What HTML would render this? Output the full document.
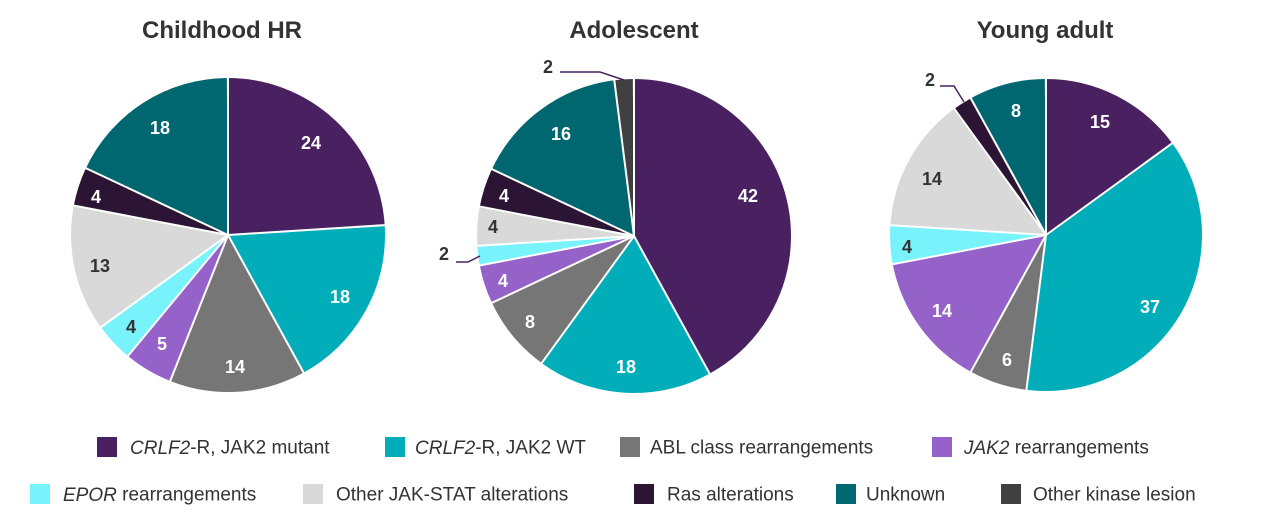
<!DOCTYPE html>
<html><head><meta charset="utf-8"><style>
body{margin:0;background:#fff;width:1273px;height:524px;overflow:hidden}
svg{font-family:"Liberation Sans",sans-serif}
.t{font-size:24px;font-weight:bold;fill:#333;text-anchor:middle}
.l{font-size:18px;font-weight:bold;text-anchor:middle;dominant-baseline:central}
.w{fill:#fff}.d{fill:#333}
.g{font-size:19px;fill:#333;dominant-baseline:central}
</style></head><body>
<svg width="1273" height="524" viewBox="0 0 1273 524">
<text class="t" x="222" y="38">Childhood HR</text>
<text class="t" x="634" y="38">Adolescent</text>
<text class="t" x="1045" y="38">Young adult</text>

<g transform="translate(228,235)">
<g transform="rotate(-90)" fill="none" stroke-width="157">
<circle r="78.5" pathLength="100" stroke="#4a2160" stroke-dasharray="24 100" stroke-dashoffset="0"/>
<circle r="78.5" pathLength="100" stroke="#00adb9" stroke-dasharray="18 100" stroke-dashoffset="-24"/>
<circle r="78.5" pathLength="100" stroke="#767676" stroke-dasharray="14 100" stroke-dashoffset="-42"/>
<circle r="78.5" pathLength="100" stroke="#9462c9" stroke-dasharray="5 100" stroke-dashoffset="-56"/>
<circle r="78.5" pathLength="100" stroke="#78f2fb" stroke-dasharray="4 100" stroke-dashoffset="-61"/>
<circle r="78.5" pathLength="100" stroke="#d9d9d9" stroke-dasharray="13 100" stroke-dashoffset="-65"/>
<circle r="78.5" pathLength="100" stroke="#2b1434" stroke-dasharray="4 100" stroke-dashoffset="-78"/>
<circle r="78.5" pathLength="100" stroke="#006770" stroke-dasharray="18 100" stroke-dashoffset="-82"/>
</g>
<g stroke="#fff" stroke-width="2">
<line y2="-158" transform="rotate(0)"/><line y2="-158" transform="rotate(86.4)"/><line y2="-158" transform="rotate(151.2)"/><line y2="-158" transform="rotate(201.6)"/><line y2="-158" transform="rotate(219.6)"/><line y2="-158" transform="rotate(234)"/><line y2="-158" transform="rotate(280.8)"/><line y2="-158" transform="rotate(295.2)"/>
</g></g>
<text class="l w" x="311" y="143">24</text><text class="l w" x="340" y="297">18</text><text class="l w" x="235" y="367">14</text>
<text class="l w" x="162" y="344">5</text><text class="l d" x="131" y="327">4</text><text class="l d" x="100" y="266">13</text>
<text class="l w" x="96" y="197">4</text><text class="l w" x="160" y="128">18</text>

<g transform="translate(634,236)">
<g transform="rotate(-90)" fill="none" stroke-width="157">
<circle r="78.5" pathLength="100" stroke="#4a2160" stroke-dasharray="42 100" stroke-dashoffset="0"/>
<circle r="78.5" pathLength="100" stroke="#00adb9" stroke-dasharray="18 100" stroke-dashoffset="-42"/>
<circle r="78.5" pathLength="100" stroke="#767676" stroke-dasharray="8 100" stroke-dashoffset="-60"/>
<circle r="78.5" pathLength="100" stroke="#9462c9" stroke-dasharray="4 100" stroke-dashoffset="-68"/>
<circle r="78.5" pathLength="100" stroke="#78f2fb" stroke-dasharray="2 100" stroke-dashoffset="-72"/>
<circle r="78.5" pathLength="100" stroke="#d9d9d9" stroke-dasharray="4 100" stroke-dashoffset="-74"/>
<circle r="78.5" pathLength="100" stroke="#2b1434" stroke-dasharray="4 100" stroke-dashoffset="-78"/>
<circle r="78.5" pathLength="100" stroke="#006770" stroke-dasharray="16 100" stroke-dashoffset="-82"/>
<circle r="78.5" pathLength="100" stroke="#404040" stroke-dasharray="2 100" stroke-dashoffset="-98"/>
</g>
<g stroke="#fff" stroke-width="2">
<line y2="-158" transform="rotate(0)"/><line y2="-158" transform="rotate(151.2)"/><line y2="-158" transform="rotate(216)"/><line y2="-158" transform="rotate(244.8)"/><line y2="-158" transform="rotate(259.2)"/><line y2="-158" transform="rotate(266.4)"/><line y2="-158" transform="rotate(280.8)"/><line y2="-158" transform="rotate(295.2)"/><line y2="-158" transform="rotate(352.8)"/>
</g></g>
<text class="l w" x="748" y="196">42</text><text class="l w" x="626" y="367">18</text><text class="l w" x="530" y="322">8</text>
<text class="l w" x="503" y="281">4</text><text class="l d" x="444" y="254">2</text><text class="l d" x="493" y="227">4</text>
<text class="l w" x="504" y="196">4</text><text class="l w" x="561" y="134">16</text><text class="l d" x="548" y="67">2</text>
<polyline points="456,262 468,262 480,256" fill="none" stroke="#4a2160" stroke-width="1.5"/>
<polyline points="560,72 600,72 624,80" fill="none" stroke="#4a2160" stroke-width="1.5"/>

<g transform="translate(1046,235)">
<g transform="rotate(-90)" fill="none" stroke-width="156">
<circle r="78" pathLength="100" stroke="#4a2160" stroke-dasharray="15 100" stroke-dashoffset="0"/>
<circle r="78" pathLength="100" stroke="#00adb9" stroke-dasharray="37 100" stroke-dashoffset="-15"/>
<circle r="78" pathLength="100" stroke="#767676" stroke-dasharray="6 100" stroke-dashoffset="-52"/>
<circle r="78" pathLength="100" stroke="#9462c9" stroke-dasharray="14 100" stroke-dashoffset="-58"/>
<circle r="78" pathLength="100" stroke="#78f2fb" stroke-dasharray="4 100" stroke-dashoffset="-72"/>
<circle r="78" pathLength="100" stroke="#d9d9d9" stroke-dasharray="14 100" stroke-dashoffset="-76"/>
<circle r="78" pathLength="100" stroke="#2b1434" stroke-dasharray="2 100" stroke-dashoffset="-90"/>
<circle r="78" pathLength="100" stroke="#006770" stroke-dasharray="8 100" stroke-dashoffset="-92"/>
</g>
<g stroke="#fff" stroke-width="2">
<line y2="-157" transform="rotate(0)"/><line y2="-157" transform="rotate(54)"/><line y2="-157" transform="rotate(187.2)"/><line y2="-157" transform="rotate(208.8)"/><line y2="-157" transform="rotate(259.2)"/><line y2="-157" transform="rotate(273.6)"/><line y2="-157" transform="rotate(324)"/><line y2="-157" transform="rotate(331.2)"/>
</g></g>
<text class="l w" x="1100" y="122">15</text><text class="l w" x="1150" y="307">37</text><text class="l w" x="1007" y="360">6</text>
<text class="l w" x="942" y="311">14</text><text class="l d" x="907" y="247">4</text><text class="l d" x="932" y="179">14</text>
<text class="l d" x="930" y="80">2</text><text class="l w" x="1016" y="111">8</text>
<polyline points="940,86 954,86 964,102" fill="none" stroke="#4a2160" stroke-width="1.5"/>

<rect x="97" y="437" width="20" height="20" fill="#4a2160"/><text class="g" x="130" y="448"><tspan font-style="italic">CRLF2</tspan>-R, JAK2 mutant</text>
<rect x="385" y="437" width="20" height="20" fill="#00adb9"/><text class="g" x="415" y="448"><tspan font-style="italic">CRLF2</tspan>-R, JAK2 WT</text>
<rect x="620" y="437" width="20" height="20" fill="#767676"/><text class="g" x="650" y="448">ABL class rearrangements</text>
<rect x="932" y="437" width="20" height="20" fill="#9462c9"/><text class="g" x="964" y="448"><tspan font-style="italic">JAK2</tspan> rearrangements</text>
<rect x="30" y="484" width="20" height="20" fill="#78f2fb"/><text class="g" x="63" y="495"><tspan font-style="italic">EPOR</tspan> rearrangements</text>
<rect x="303" y="484" width="20" height="20" fill="#d9d9d9"/><text class="g" x="336" y="495">Other JAK-STAT alterations</text>
<rect x="634" y="484" width="20" height="20" fill="#2b1434"/><text class="g" x="667" y="495">Ras alterations</text>
<rect x="836" y="484" width="20" height="20" fill="#006770"/><text class="g" x="866" y="495">Unknown</text>
<rect x="1001" y="484" width="20" height="20" fill="#404040"/><text class="g" x="1033" y="495">Other kinase lesion</text>
</svg>
</body></html>
